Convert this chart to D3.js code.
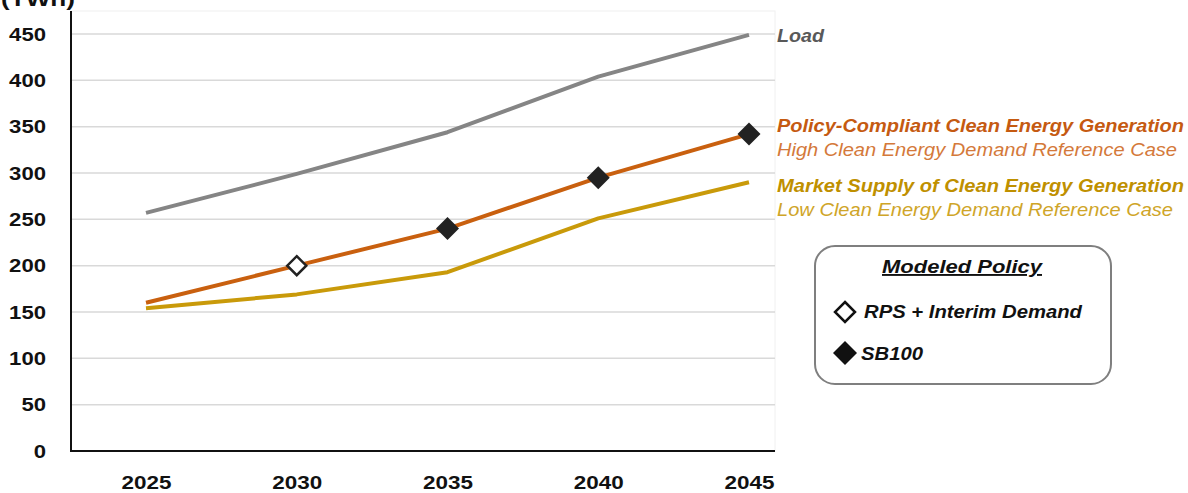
<!DOCTYPE html>
<html>
<head>
<meta charset="utf-8">
<script src="https://cdn.jsdelivr.net/npm/d3@7"></script>
<style>
  html, body { margin: 0; padding: 0; background: #fff; }
  svg { display: block; font-family: "Liberation Sans", Arial, sans-serif; }
</style>
</head>
<body>
<svg id="chart" width="1188" height="493"></svg>
<script>
// Years on the horizontal axis
const years = [2025, 2030, 2035, 2040, 2045];
// Generation / load in TWh
const load = [257, 299, 344, 404, 449];
const policyCompliant = [160, 200, 240, 295, 342];
const marketSupply = [154, 169, 193, 251, 290];
// Policy markers on the policy-compliant line
const rpsYears = [2030];
const sb100Years = [2035, 2040, 2045];
// Y tick labels
const yTicks = [0, 50, 100, 150, 200, 250, 300, 350, 400, 450];

const svg = d3.select("#chart");

const plot = { left: 71, right: 775, top: 11, bottom: 451 };
const x = d3.scaleLinear().domain([2025, 2045]).range([146, 749]);
const y = d3.scaleLinear().domain([0, 450]).range([451, 34]);

// faint plot-area frame
svg.append("rect")
  .attr("x", plot.left).attr("y", plot.top)
  .attr("width", plot.right - plot.left).attr("height", plot.bottom - plot.top)
  .attr("fill", "none").attr("stroke", "#f0f0f0").attr("stroke-width", 1);

// unit label, partly above the top edge
svg.append("text").attr("x", 1).attr("y", 6)
  .attr("font-size", 20).attr("font-weight", "bold").attr("fill", "#111")
  .attr("textLength", 74).attr("lengthAdjust", "spacingAndGlyphs")
  .text("(TWh)");

// gridlines
svg.append("g").selectAll("line").data(yTicks.filter(d => d > 0)).join("line")
  .attr("x1", plot.left).attr("x2", plot.right)
  .attr("y1", d => y(d)).attr("y2", d => y(d))
  .attr("stroke", "#d9d9d9").attr("stroke-width", 1.5);

// y axis
const yAxis = d3.axisLeft(y).tickValues(yTicks).tickSize(0).tickPadding(25);
const gy = svg.append("g").attr("transform", `translate(${plot.left},0)`).call(yAxis);
gy.select(".domain").remove();
gy.selectAll("text").attr("font-size", 19).attr("font-weight", "bold")
  .attr("fill", "#111").attr("font-family", "'Liberation Sans', Arial, sans-serif")
  .attr("textLength", d => String(d).length * 12.3).attr("lengthAdjust", "spacingAndGlyphs");

// x axis labels
const xAxis = d3.axisBottom(x).tickValues(years).tickFormat(d3.format("d")).tickSize(0).tickPadding(25);
const gx = svg.append("g").attr("transform", `translate(0,${plot.bottom})`).call(xAxis);
gx.select(".domain").remove();
gx.selectAll("text").attr("font-size", 19).attr("font-weight", "bold")
  .attr("fill", "#111").attr("font-family", "'Liberation Sans', Arial, sans-serif")
  .attr("textLength", 50).attr("lengthAdjust", "spacingAndGlyphs");

// axis lines
svg.append("line").attr("x1", plot.left).attr("x2", plot.left)
  .attr("y1", plot.top).attr("y2", plot.bottom + 1)
  .attr("stroke", "#111").attr("stroke-width", 2);
svg.append("line").attr("x1", plot.left).attr("x2", plot.right)
  .attr("y1", plot.bottom).attr("y2", plot.bottom)
  .attr("stroke", "#111").attr("stroke-width", 2);

// series lines
const line = d3.line().x((d, i) => x(years[i])).y(d => y(d));
const series = [
  { values: marketSupply, color: "#c99a0a" },
  { values: policyCompliant, color: "#c9600f" },
  { values: load, color: "#858585" }
];
svg.append("g").selectAll("path").data(series).join("path")
  .attr("d", d => line(d.values))
  .attr("fill", "none").attr("stroke", d => d.color)
  .attr("stroke-width", 4).attr("stroke-linejoin", "round");

// markers
const valueAt = yr => policyCompliant[years.indexOf(yr)];
const diamond = (cx, cy, r) => `M${cx},${cy - r}L${cx + r},${cy}L${cx},${cy + r}L${cx - r},${cy}Z`;
svg.append("g").selectAll("path").data(rpsYears).join("path")
  .attr("d", d => diamond(x(d), y(valueAt(d)), 9.5))
  .attr("fill", "#fff").attr("stroke", "#222").attr("stroke-width", 2.5);
svg.append("g").selectAll("path").data(sb100Years).join("path")
  .attr("d", d => diamond(x(d), y(valueAt(d)), 11.5))
  .attr("fill", "#222");

// series labels
const labels = [
  { t: "Load", y: 42, color: "#595959", bold: true, w: 47 },
  { t: "Policy-Compliant Clean Energy Generation", y: 132, color: "#c55a11", bold: true, w: 407 },
  { t: "High Clean Energy Demand Reference Case", y: 156, color: "#d4793a", bold: false, w: 400 },
  { t: "Market Supply of Clean Energy Generation", y: 192, color: "#bf9000", bold: true, w: 407 },
  { t: "Low Clean Energy Demand Reference Case", y: 216, color: "#cfa528", bold: false, w: 396 }
];
svg.append("g").selectAll("text").data(labels).join("text")
  .attr("x", 777).attr("y", d => d.y)
  .attr("font-size", 18.5).attr("font-style", "italic")
  .attr("font-weight", d => d.bold ? "bold" : "normal")
  .attr("fill", d => d.color)
  .attr("textLength", d => d.w).attr("lengthAdjust", "spacingAndGlyphs")
  .text(d => d.t);

// policy legend
const lg = svg.append("g");
lg.append("rect").attr("x", 815).attr("y", 246).attr("width", 296).attr("height", 138)
  .attr("rx", 20).attr("fill", "#fff").attr("stroke", "#7f7f7f").attr("stroke-width", 2);
lg.append("text").attr("x", 962).attr("y", 273).attr("text-anchor", "middle")
  .attr("font-size", 19).attr("font-weight", "bold").attr("font-style", "italic")
  .attr("text-decoration", "underline").attr("fill", "#111")
  .attr("textLength", 160).attr("lengthAdjust", "spacingAndGlyphs")
  .text("Modeled Policy");
lg.append("path").attr("d", diamond(845, 312, 10)).attr("fill", "#fff")
  .attr("stroke", "#111").attr("stroke-width", 2.5);
lg.append("text").attr("x", 864).attr("y", 318).attr("font-size", 18.5)
  .attr("font-weight", "bold").attr("font-style", "italic").attr("fill", "#111")
  .attr("textLength", 218).attr("lengthAdjust", "spacingAndGlyphs")
  .text("RPS + Interim Demand");
lg.append("path").attr("d", diamond(845, 353, 12)).attr("fill", "#111");
lg.append("text").attr("x", 861).attr("y", 360).attr("font-size", 18.5)
  .attr("font-weight", "bold").attr("font-style", "italic").attr("fill", "#111")
  .attr("textLength", 62).attr("lengthAdjust", "spacingAndGlyphs")
  .text("SB100");
</script>
</body>
</html>
